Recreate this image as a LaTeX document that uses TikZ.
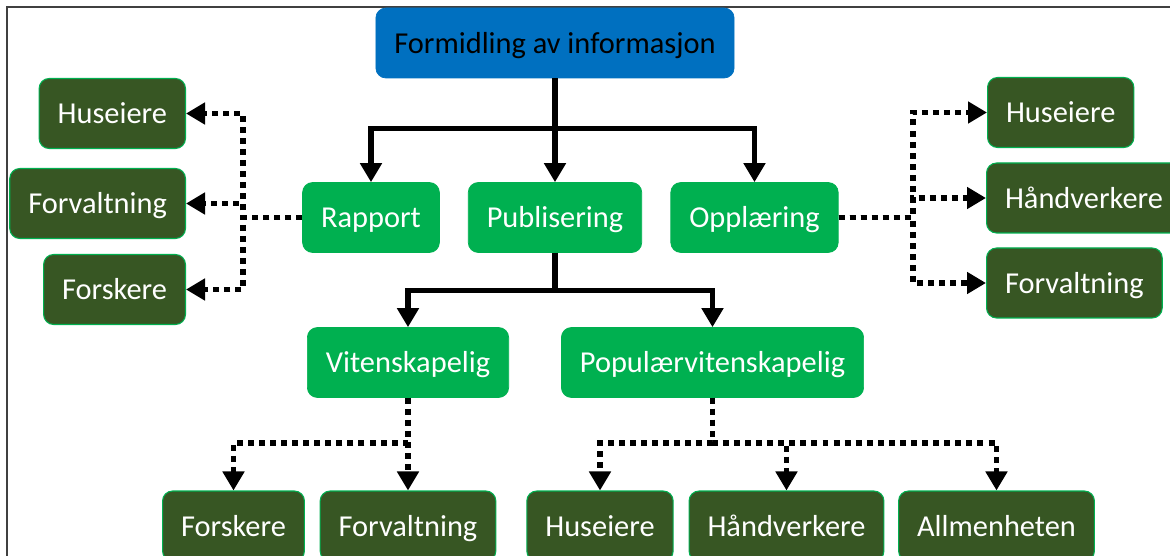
\documentclass[tikz,border=0pt]{standalone}
\usepackage{fontspec}
\setmainfont{Carlito}
\usetikzlibrary{arrows.meta}
\tikzset{>={Triangle[length=0.38cm,width=0.42cm]}}
\definecolor{boxBlue}{HTML}{0070C0}
\definecolor{boxGreen}{HTML}{00B050}
\definecolor{boxDark}{HTML}{375623}

\begin{document}
\begin{tikzpicture}[
    font = \fontsize{17.3}{20}\selectfont,
    minimum height = 1.4cm,
    inner xsep = 0.37cm,
    text height = 0.5cm,
    text depth = 0.08cm,
    rounded corners = 0.2cm,
    topic/.style = {fill = boxBlue, draw = boxBlue, text = black},
    channel/.style = {fill = boxGreen, draw = boxGreen, text = white},
    audience/.style = {fill = boxDark, draw = boxGreen, line width = 0.6pt, text = white},
    link/.style = {->, line width = 3pt, rounded corners = 0pt},
    reach/.style = {->, line width = 3.4pt, rounded corners = 0pt, dash pattern = on 3.4pt off 2.9pt}
  ]
    \useasboundingbox (0, 0) rectangle (23.4, -11.12);
    \draw[black!75, line width = 0.6pt, rounded corners = 0pt] (0.14, -11.12) |- (23.4, -0.14);
    \node[topic] (formidling) at (11.1, -0.86) {Formidling av informasjon};
    \node[channel] (rapport) at (7.42, -4.35) {Rapport};
    \node[channel] (publisering) at (11.1, -4.35) {Publisering};
    \node[channel] (opplaering) at (15.09, -4.35) {Opplæring};
    \node[audience, anchor = east] (rapport_huseiere) at (3.72, -2.27) {Huseiere};
    \node[audience, anchor = east] (rapport_forvaltning) at (3.72, -4.07) {Forvaltning};
    \node[audience, anchor = east] (rapport_forskere) at (3.72, -5.79) {Forskere};
    \node[audience, anchor = west] (opplaering_huseiere) at (19.74, -2.25) {Huseiere};
    \node[audience, anchor = west] (opplaering_haandverkere) at (19.72, -3.96) {Håndverkere};
    \node[audience, anchor = west] (opplaering_forvaltning) at (19.72, -5.66) {Forvaltning};
    \node[channel] (vitenskapelig) at (8.16, -7.25) {Vitenskapelig};
    \node[channel] (populaer) at (14.25, -7.25) {Populærvitenskapelig};
    \node[audience] (vitenskapelig_forskere) at (4.67, -10.52) {Forskere};
    \node[audience] (vitenskapelig_forvaltning) at (8.16, -10.52) {Forvaltning};
    \node[audience] (populaer_huseiere) at (12.0, -10.52) {Huseiere};
    \node[audience] (populaer_haandverkere) at (15.73, -10.52) {Håndverkere};
    \node[audience] (populaer_allmenheten) at (19.93, -10.52) {Allmenheten};
    \draw[link] (formidling.south) -- ++(0, -1) -| (rapport.north);
    \draw[link] (formidling.south) -- (publisering.north);
    \draw[link] (formidling.south) -- ++(0, -1) -| (opplaering.north);
    \draw[link] (publisering.south) -- ++(0, -0.76) -| (vitenskapelig.north);
    \draw[link] (publisering.south) -- ++(0, -0.76) -| (populaer.north);
    \draw[reach] (rapport.west) -- ++(-1.18, 0) |- (rapport_huseiere.east);
    \draw[reach] (rapport.west) -- ++(-1.18, 0) |- (rapport_forvaltning.east);
    \draw[reach] (rapport.west) -- ++(-1.18, 0) |- (rapport_forskere.east);
    \draw[reach] (opplaering.east) -- ++(1.48, 0) |- (opplaering_huseiere.west);
    \draw[reach] (opplaering.east) -- ++(1.48, 0) |- (opplaering_haandverkere.west);
    \draw[reach] (opplaering.east) -- ++(1.48, 0) |- (opplaering_forvaltning.west);
    \draw[reach] (vitenskapelig.south) -- ++(0, -0.9) -| (vitenskapelig_forskere.north);
    \draw[reach] (vitenskapelig.south) -- (vitenskapelig_forvaltning.north);
    \draw[reach] (populaer.south) -- ++(0, -0.9) -| (populaer_huseiere.north);
    \draw[reach] (populaer.south) -- ++(0, -0.9) -| (populaer_haandverkere.north);
    \draw[reach] (populaer.south) -- ++(0, -0.9) -| (populaer_allmenheten.north);
  \end{tikzpicture}
\end{document}
